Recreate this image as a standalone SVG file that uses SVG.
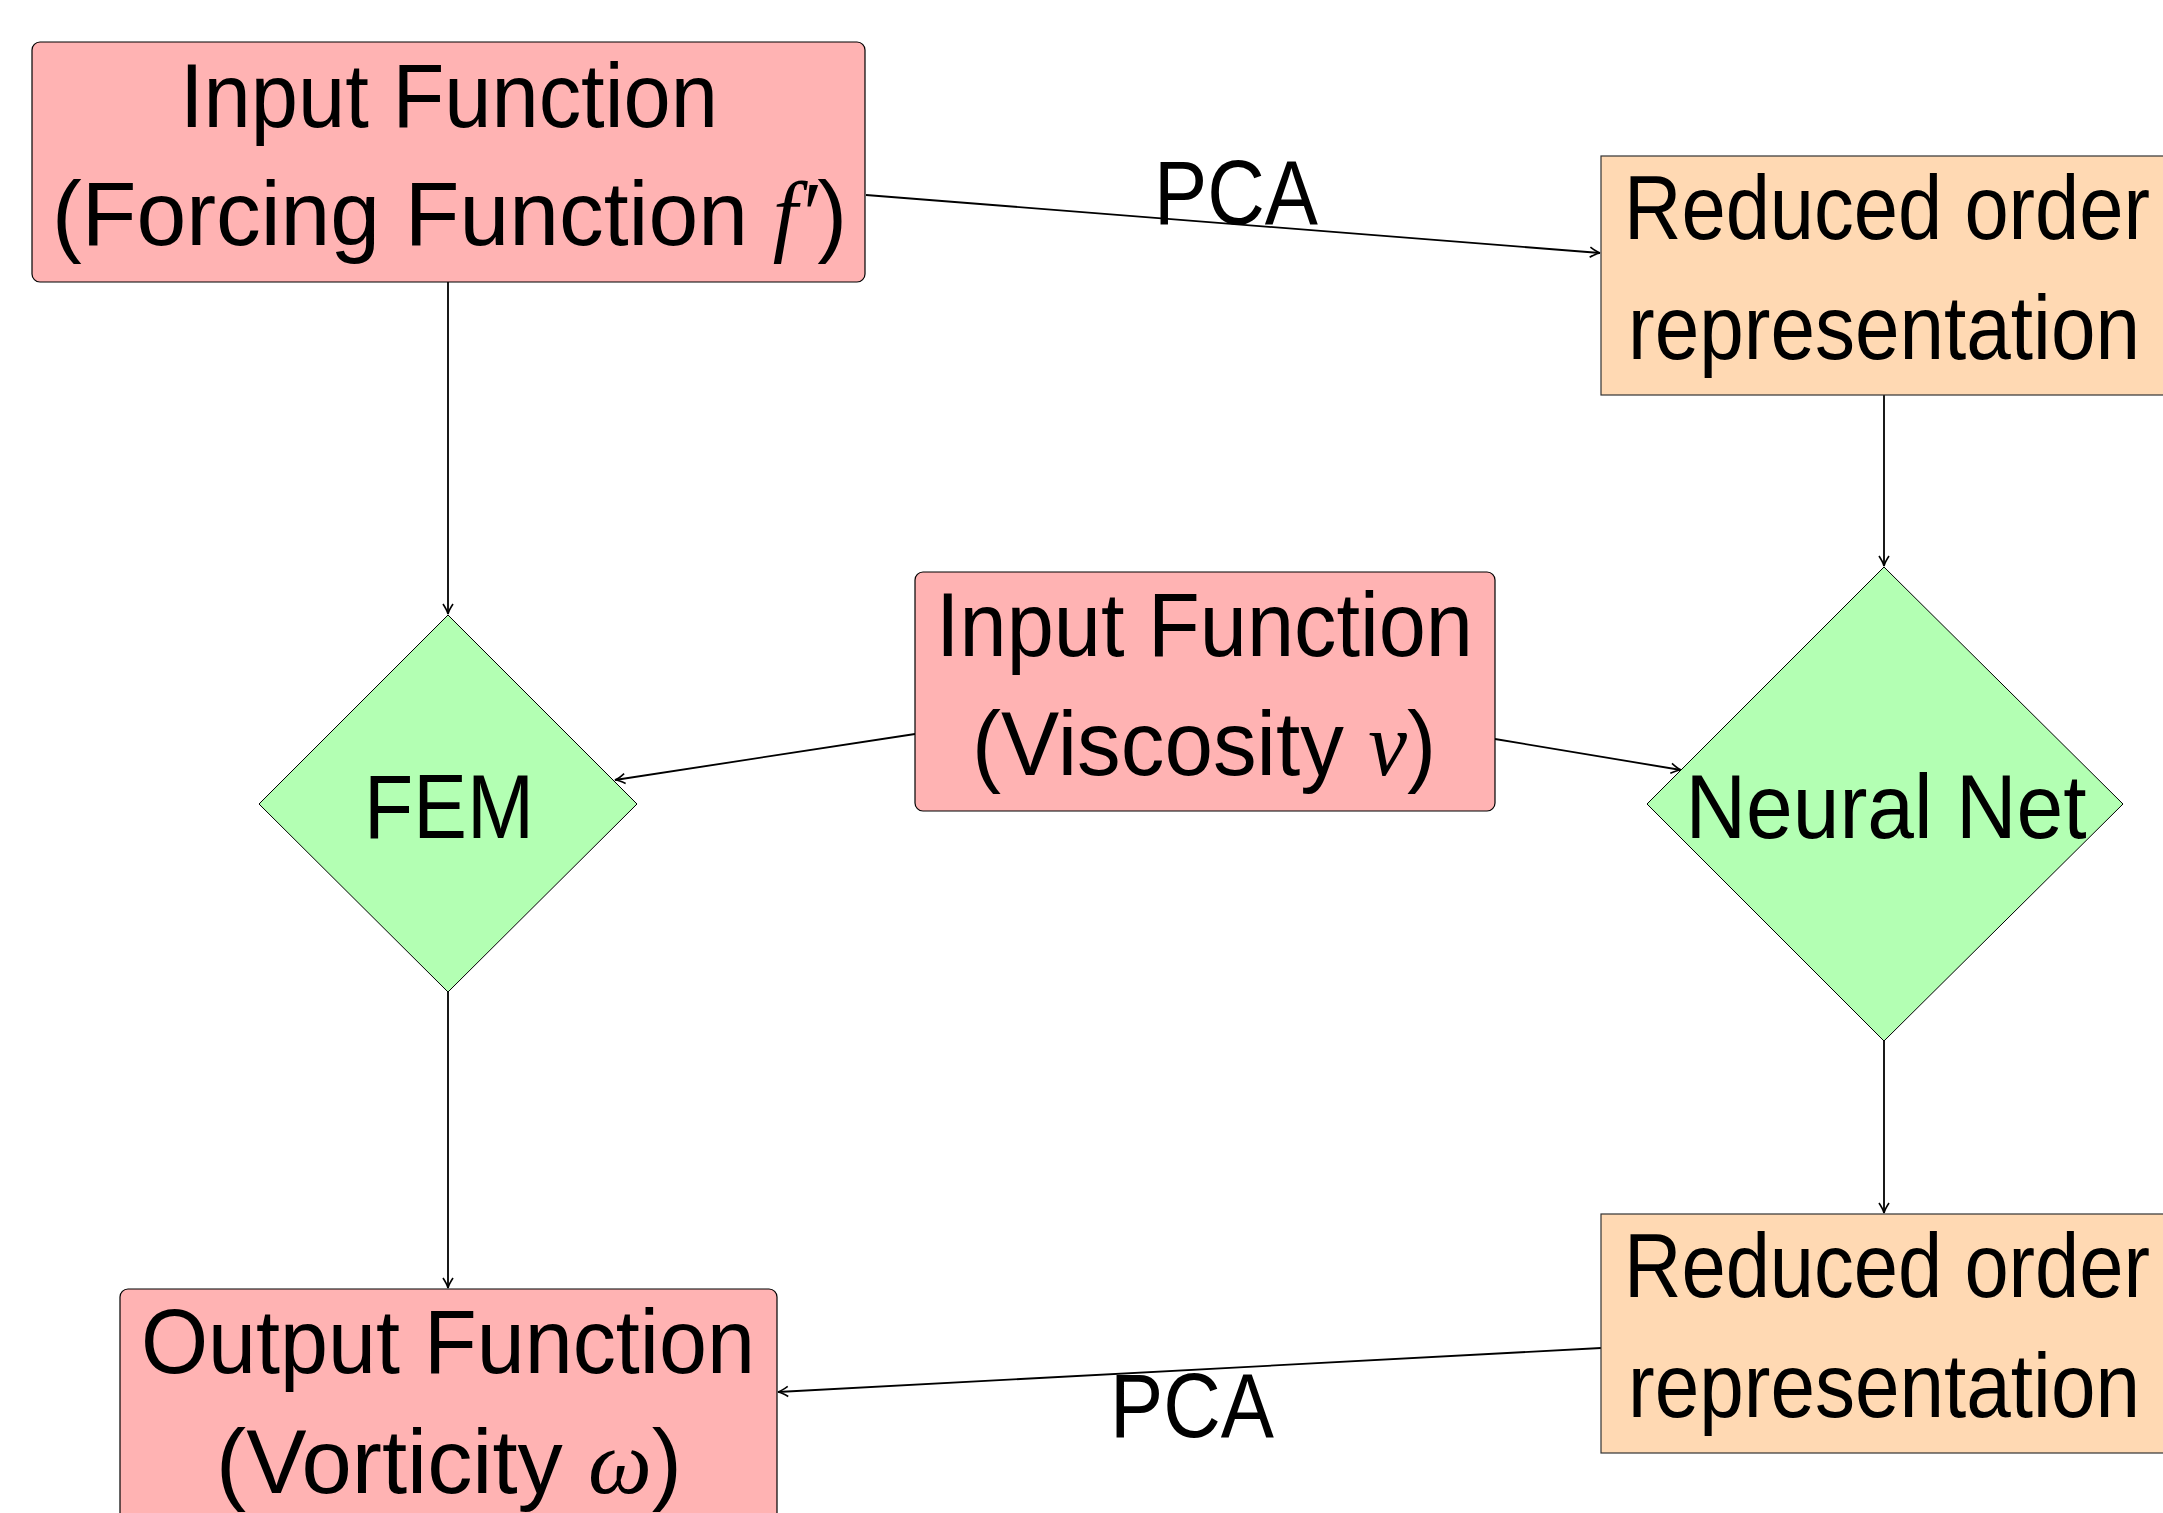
<svg xmlns="http://www.w3.org/2000/svg" width="2163" height="1513" viewBox="0 0 2163 1513">
<style>
  .red { fill: #ffb3b3; stroke: #000; stroke-width: 1.2; }
  .org { fill: #ffd9b3; stroke: #333; stroke-width: 1.2; }
  .grn { fill: #b3ffb3; stroke: #000; stroke-width: 1; }
  .t { font-family: "Liberation Sans", Arial, sans-serif; font-size: 90px; fill: #000; text-anchor: middle; }
  .m { font-family: "Liberation Serif", "Times New Roman", serif; font-style: italic; }
  .c { stroke: #000; stroke-width: 1.8; fill: none; marker-end: url(#arr); }
</style>
<defs>
  <marker id="arr" markerUnits="userSpaceOnUse" markerWidth="16" markerHeight="14" viewBox="-12 -7 14 14" refX="0" refY="0" orient="auto">
    <path d="M -10 -5 Q -4 -1 0 0 Q -4 1 -10 5" fill="none" stroke="#000" stroke-width="1.6"/>
  </marker>
</defs>
<rect width="2163" height="1513" fill="#fff"/>
<g id="connectors">
  <line class="c" x1="866" y1="195" x2="1600" y2="253"/>
  <line class="c" x1="448" y1="282" x2="448" y2="614"/>
  <line class="c" x1="915" y1="734" x2="615" y2="780"/>
  <line class="c" x1="1495" y1="739" x2="1681" y2="770"/>
  <line class="c" x1="1884" y1="395" x2="1884" y2="566"/>
  <line class="c" x1="1884" y1="1041" x2="1884" y2="1213"/>
  <line class="c" x1="448" y1="992" x2="448" y2="1288"/>
  <line class="c" x1="1601" y1="1348" x2="778" y2="1392"/>
  <text class="t" x="1236" y="224" textLength="164" lengthAdjust="spacingAndGlyphs">PCA</text>
  <text class="t" x="1192" y="1437" textLength="164" lengthAdjust="spacingAndGlyphs">PCA</text>
</g>
<g id="input-forcing">
  <rect class="red" x="32" y="42" width="833" height="240" rx="8"/>
  <text class="t" x="449" y="127" textLength="538" lengthAdjust="spacingAndGlyphs">Input Function</text>
  <text class="t" x="449.5" y="245" textLength="795" lengthAdjust="spacingAndGlyphs">(Forcing Function  <tspan class="m">f′</tspan>)</text>
</g>
<g id="reduced-top">
  <rect class="org" x="1601" y="156" width="566" height="239"/>
  <text class="t" x="1887" y="239" textLength="526" lengthAdjust="spacingAndGlyphs">Reduced order</text>
  <text class="t" x="1884" y="359" textLength="512" lengthAdjust="spacingAndGlyphs">representation</text>
</g>
<g id="fem">
  <polygon class="grn" points="448,615 637,804 448,992 259,804"/>
  <text class="t" x="449" y="838" textLength="170" lengthAdjust="spacingAndGlyphs">FEM</text>
</g>
<g id="input-viscosity">
  <rect class="red" x="915" y="572" width="580" height="239" rx="8"/>
  <text class="t" x="1204.5" y="656" textLength="537" lengthAdjust="spacingAndGlyphs">Input Function</text>
  <text class="t" x="1204" y="775" textLength="464" lengthAdjust="spacingAndGlyphs">(Viscosity <tspan class="m">v</tspan>)</text>
</g>
<g id="neural-net">
  <polygon class="grn" points="1884,567 2123,804 1884,1041 1647,804"/>
  <text class="t" x="1886" y="838" textLength="401" lengthAdjust="spacingAndGlyphs">Neural Net</text>
</g>
<g id="reduced-bottom">
  <rect class="org" x="1601" y="1214" width="566" height="239"/>
  <text class="t" x="1887" y="1297" textLength="526" lengthAdjust="spacingAndGlyphs">Reduced order</text>
  <text class="t" x="1884" y="1417" textLength="512" lengthAdjust="spacingAndGlyphs">representation</text>
</g>
<g id="output-vorticity">
  <rect class="red" x="120" y="1289" width="657" height="240" rx="8"/>
  <text class="t" x="448" y="1373" textLength="614" lengthAdjust="spacingAndGlyphs">Output Function</text>
  <text class="t" x="449" y="1493" textLength="466" lengthAdjust="spacingAndGlyphs">(Vorticity <tspan class="m">ω</tspan>)</text>
</g>
</svg>
